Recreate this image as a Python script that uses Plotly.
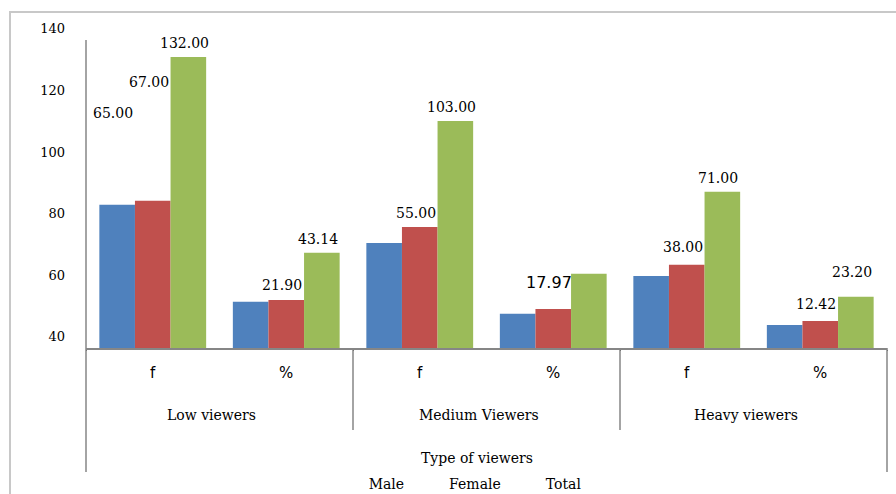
import plotly.graph_objects as go

# ---- data ----
outer_cats = ["Low viewers", "Low viewers", "Medium Viewers", "Medium Viewers",
              "Heavy viewers", "Heavy viewers"]
inner_cats = ["f", "%", "f", "%", "f", "%"]
group_names = ["Low viewers", "Medium Viewers", "Heavy viewers"]
series_names = ["Male", "Female", "Total"]

# bar heights as drawn on the chart's value axis
male_vals = [82.9, 51.4, 70.5, 47.5, 59.8, 43.9]
female_vals = [84.2, 52.0, 75.7, 49.1, 63.4, 45.2]
total_vals = [130.9, 67.3, 110.1, 60.5, 87.1, 53.0]

# data labels printed on the chart
male_labels = ["65.00", "", "", "", "", ""]
female_labels = ["67.00", "21.90", "55.00", "17.97", "38.00", "12.42"]
total_labels = ["132.00", "43.14", "103.00", "", "71.00", "23.20"]

y_ticks = [40, 60, 80, 100, 120, 140]
x_title = "Type of viewers"

# ---- style ----
colors = ["#4F81BD", "#C0504D", "#9BBB59"]
serif = "DejaVu Serif"
sans = "DejaVu Sans"
axis_grey = "#868686"
Y_RANGE = [36.4, 140.6]
PLOT_H = 321.0  # px height of plot area (494 - 27 - 146)


def py(px_y):
    """paper y for an absolute pixel row (plot bottom at 348px)"""
    return (348 - px_y) / PLOT_H


# label offsets (px above bar top) -- styling only
default_off = 14
special_off = {(0, 0): 92, (1, 0): 119, (1, 1): 15, (1, 3): 26, (1, 4): 18,
               (1, 5): 17, (2, 5): 25}
special_font = {(1, 3): dict(family=sans, size=16, color="#000")}

fig = go.Figure()
vals = [male_vals, female_vals, total_vals]
labels = [male_labels, female_labels, total_labels]
for j, (name, v) in enumerate(zip(series_names, vals)):
    fig.add_trace(go.Bar(
        x=[outer_cats, inner_cats], y=v, name=name,
        marker=dict(color=colors[j], line=dict(width=0)),
        showlegend=False,
    ))
# legend entries (the reference legend shows names without visible keys)
for name in series_names:
    fig.add_trace(go.Scatter(
        x=[None], y=[None], mode="lines", name=name,
        line=dict(color="rgba(0,0,0,0)", width=0),
    ))

bw = 0.8 / 3
annotations = []
for j in range(3):
    for i in range(6):
        t = labels[j][i]
        if not t:
            continue
        annotations.append(dict(
            x=i + (j - 1) * bw, y=vals[j][i], xref="x", yref="y",
            text=t, showarrow=False, yanchor="middle",
            yshift=special_off.get((j, i), default_off), xshift=-4,
            font=special_font.get((j, i), dict(family=serif, size=14, color="#000")),
        ))
# category labels (inner level)
for i, c in enumerate(inner_cats):
    annotations.append(dict(
        x=i, y=py(373), xref="x", yref="paper", text=c, showarrow=False,
        yanchor="middle", font=dict(family=sans, size=15, color="#000"),
    ))
# group labels (outer level)
for g, name in enumerate(group_names):
    annotations.append(dict(
        x=2 * g + 0.5, y=py(415), xref="x", yref="paper", text=name, showarrow=False,
        yanchor="middle", xshift=-8, font=dict(family=serif, size=14, color="#000"),
    ))
# axis title
annotations.append(dict(
    x=0.5, y=py(458), xref="paper", yref="paper", text=x_title, showarrow=False,
    yanchor="middle", xshift=-10, font=dict(family=serif, size=14, color="#000"),
))

shapes = [
    # outer chart border
    dict(type="rect", xref="paper", yref="paper",
         x0=(10 - 86) / 801, x1=1.05, y0=-0.6, y1=py(12),
         line=dict(color="#C8C8C8", width=2), fillcolor="rgba(0,0,0,0)", layer="below"),
    # value axis line
    dict(type="line", xref="paper", yref="y", x0=0, x1=0, y0=Y_RANGE[0], y1=136.4,
         line=dict(color=axis_grey, width=1.5)),
    # outer edges of the category axis box
    dict(type="line", xref="paper", yref="paper", x0=0, x1=0, y0=0, y1=py(472),
         line=dict(color=axis_grey, width=1.5)),
    dict(type="line", xref="paper", yref="paper", x0=1, x1=1, y0=0, y1=py(472),
         line=dict(color=axis_grey, width=1.5)),
    # group dividers
    dict(type="line", xref="x", yref="paper", x0=1.5, x1=1.5, y0=0, y1=py(430),
         line=dict(color=axis_grey, width=1.5)),
    dict(type="line", xref="x", yref="paper", x0=3.5, x1=3.5, y0=0, y1=py(430),
         line=dict(color=axis_grey, width=1.5)),
]

fig.update_layout(
    width=896, height=494,
    margin=dict(l=86, r=9, t=27, b=146, autoexpand=False),
    paper_bgcolor="white", plot_bgcolor="white",
    barmode="group", bargap=0.2, bargroupgap=0,
    font=dict(family=serif, size=14, color="#000"),
    annotations=annotations, shapes=shapes,
    legend=dict(orientation="h", x=0.464, xanchor="center", y=py(484),
                yanchor="middle", font=dict(family=serif, size=14), bgcolor="rgba(0,0,0,0)"),
    xaxis=dict(
        type="multicategory", showline=True, linecolor=axis_grey, linewidth=1.5,
        showgrid=False, ticks="", showticklabels=False, automargin=False,
    ),
    yaxis=dict(
        range=Y_RANGE, tickvals=y_ticks, showgrid=False, showline=False, ticks="",
        zeroline=False, ticklabelstandoff=20, tickfont=dict(family=serif, size=13),
        automargin=False,
    ),
)

fig.write_html("out.html")
